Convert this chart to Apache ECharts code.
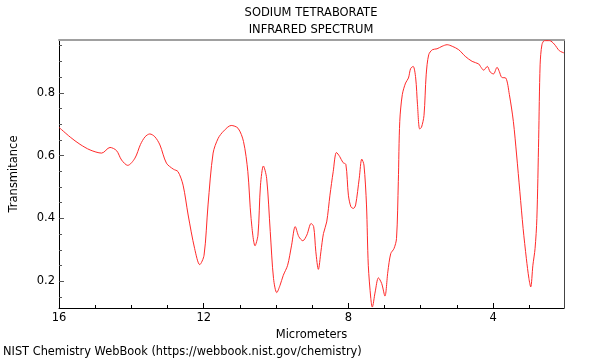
<!DOCTYPE html>
<html>
<head>
<meta charset="utf-8">
<script src="https://cdn.jsdelivr.net/npm/echarts@6/dist/echarts.min.js"></script>
<style>html,body{margin:0;padding:0;background:#fff}#c{width:600px;height:360px}</style>
</head>
<body>
<div id="c"></div>
<script>
const micrometers = [16.00,15.69,15.42,15.14,14.82,14.59,14.41,14.27,14.10,13.90,13.75,13.62,13.49,13.35,13.21,13.03,12.84,12.71,12.57,12.43,12.25,12.11,11.99,11.88,11.74,11.60,11.45,11.24,11.05,10.90,10.78,10.69,10.58,10.50,10.43,10.35,10.26,10.16,10.07,9.98,9.89,9.80,9.68,9.57,9.47,9.37,9.26,9.15,9.03,8.96,8.90,8.83,8.76,8.69,8.60,8.51,8.42,8.33,8.24,8.15,8.07,8.00,7.93,7.86,7.80,7.70,7.63,7.57,7.50,7.45,7.38,7.34,7.26,7.17,7.08,6.99,6.91,6.83,6.74,6.67,6.62,6.58,6.51,6.42,6.34,6.28,6.21,6.14,6.09,6.03,5.98,5.91,5.85,5.78,5.68,5.55,5.41,5.27,5.13,4.95,4.77,4.58,4.40,4.35,4.26,4.16,4.08,3.99,3.89,3.83,3.76,3.65,3.55,3.44,3.35,3.26,3.17,3.08,3.01,2.96,2.90,2.84,2.79,2.74,2.70,2.65,2.58,2.44,2.31,2.17,2.04];
const transmittance = [0.690,0.659,0.636,0.618,0.608,0.626,0.616,0.586,0.569,0.592,0.635,0.660,0.669,0.660,0.634,0.576,0.557,0.549,0.506,0.411,0.304,0.253,0.283,0.443,0.608,0.655,0.678,0.696,0.687,0.645,0.549,0.400,0.313,0.347,0.506,0.567,0.528,0.358,0.209,0.164,0.187,0.219,0.251,0.315,0.374,0.342,0.329,0.347,0.384,0.374,0.294,0.238,0.294,0.352,0.389,0.474,0.549,0.610,0.597,0.578,0.572,0.474,0.437,0.432,0.443,0.528,0.589,0.570,0.443,0.251,0.145,0.118,0.166,0.211,0.193,0.153,0.230,0.288,0.304,0.336,0.517,0.709,0.794,0.831,0.847,0.877,0.884,0.847,0.762,0.685,0.690,0.728,0.857,0.921,0.937,0.940,0.948,0.953,0.948,0.937,0.916,0.900,0.892,0.884,0.872,0.884,0.866,0.860,0.881,0.868,0.849,0.847,0.794,0.709,0.602,0.485,0.368,0.272,0.209,0.182,0.251,0.304,0.400,0.655,0.889,0.953,0.966,0.966,0.955,0.934,0.927];
const xMajorTicks = [16,12,8,4];
const xMinorTicks = [15,14,13,11,10,9,7,6,5,3];
const yMajorTicks = [0.2,0.4,0.6,0.8];
const yMinorTicks = [0.15,0.25,0.3,0.35,0.45,0.5,0.55,0.65,0.7,0.75,0.85,0.9,0.95];
const titleLines = ['SODIUM TETRABORATE','INFRARED SPECTRUM'];
const xName = 'Micrometers';
const yName = 'Transmitance';
const footer = 'NIST Chemistry WebBook (https://webbook.nist.gov/chemistry)';

const FONT = 'DejaVu Sans';
const FS = 11.5;
const XMIN = 2.04, XMAX = 16, YMIN = 0.115, YMAX = 0.968;
const chart = echarts.init(document.getElementById('c'), null, {renderer:'canvas'});
const baseX = {type:'value', inverse:true, min:XMIN, max:XMAX, splitLine:{show:false}};
const baseY = {type:'value', min:YMIN, max:YMAX, splitLine:{show:false}};
chart.setOption({
  animation:false,
  backgroundColor:'#fff',
  graphic:[
    {type:'text', x:311, y:13, style:{text:titleLines[0], fontFamily:FONT, fontSize:FS, fill:'#000', align:'center', verticalAlign:'middle'}},
    {type:'text', x:311, y:30, style:{text:titleLines[1], fontFamily:FONT, fontSize:FS, fill:'#000', align:'center', verticalAlign:'middle'}},
    {type:'text', x:3, y:352, style:{text:footer, fontFamily:FONT, fontSize:11.4, fill:'#000', align:'left', verticalAlign:'middle'}}
  ],
  grid:{left:57, right:36, top:40, bottom:52},
  xAxis:[
    Object.assign({}, baseX, {position:'bottom', name:xName, nameLocation:'middle', nameGap:16,
      nameTextStyle:{fontFamily:FONT, fontSize:FS, color:'#000'},
      axisLine:{lineStyle:{color:'#000', width:1}},
      axisTick:{inside:true, length:5, customValues:xMajorTicks, lineStyle:{color:'#000'}},
      axisLabel:{customValues:xMajorTicks, margin:4, fontFamily:FONT, fontSize:FS, color:'#000'}}),
    Object.assign({}, baseX, {position:'bottom', axisLine:{show:false},
      axisTick:{inside:true, length:3, customValues:xMinorTicks, lineStyle:{color:'#000'}},
      axisLabel:{show:false}}),
    Object.assign({}, baseX, {position:'top', axisLine:{lineStyle:{color:'#a0a0a0', width:2}},
      axisTick:{show:false}, axisLabel:{show:false}})
  ],
  yAxis:[
    Object.assign({}, baseY, {position:'left', name:yName, nameLocation:'middle', nameGap:39,
      nameTextStyle:{fontFamily:FONT, fontSize:FS, color:'#000'},
      axisLine:{show:true, lineStyle:{color:'#000', width:1}},
      axisTick:{show:true, inside:true, length:5, customValues:yMajorTicks, lineStyle:{color:'#555'}},
      axisLabel:{customValues:yMajorTicks, margin:4, fontFamily:FONT, fontSize:FS, color:'#000',
        formatter:v=>v.toFixed(1)}}),
    Object.assign({}, baseY, {position:'left', axisLine:{show:false},
      axisTick:{show:true, inside:true, length:3, customValues:yMinorTicks, lineStyle:{color:'#555'}},
      axisLabel:{show:false}}),
    Object.assign({}, baseY, {position:'right', axisLine:{show:true, lineStyle:{color:'#444', width:1}},
      axisTick:{show:false}, axisLabel:{show:false}})
  ],
  series:[{type:'line', xAxisIndex:0, yAxisIndex:0, data:micrometers.map((x,i)=>[x, transmittance[i]]),
    showSymbol:false, smooth:0.3, clip:true, lineStyle:{color:'#ff2a2a', width:1}}]
});
</script>
</body>
</html>
